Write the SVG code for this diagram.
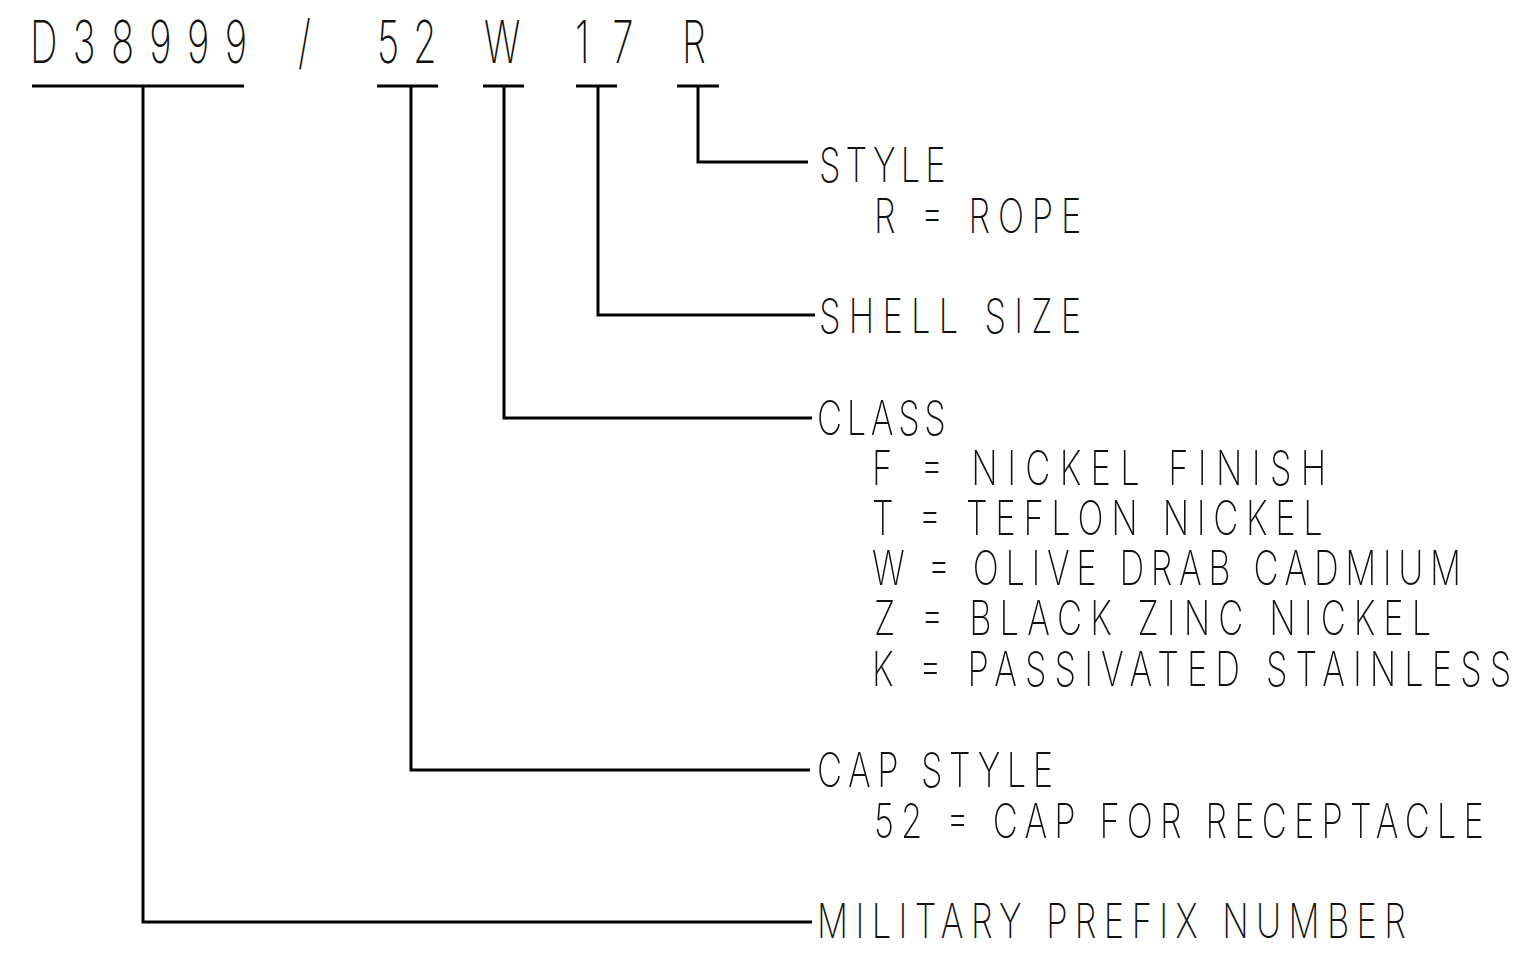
<svg xmlns="http://www.w3.org/2000/svg" width="1516" height="954" viewBox="0 0 1516 954">
<style>
.pn{font-family:Inter,Roboto,Lato,"DejaVu Sans",sans-serif;font-weight:200;font-size:59px;fill:#111;}
.lb{font-family:Inter,Roboto,Lato,"DejaVu Sans",sans-serif;font-weight:200;font-size:48px;fill:#111;}
.ln{stroke:#000;stroke-width:3;fill:none;stroke-linecap:butt;stroke-linejoin:miter;}
.txt{opacity:0.995;}
</style>
<rect width="1516" height="954" fill="#fff"/>
<g id="part-number">
<g id="seg-prefix"><text class="pn txt" transform="translate(30,63) scale(0.65,1)" textLength="334" lengthAdjust="spacing">D38999</text><line class="ln" x1="32" y1="86" x2="244" y2="86"/></g>
<g id="seg-slash"><text class="pn txt" transform="translate(298,63) scale(0.65,1)">/</text></g>
<g id="seg-cap"><text class="pn txt" transform="translate(377,63) scale(0.65,1)" textLength="92" lengthAdjust="spacing">52</text><line class="ln" x1="377" y1="86" x2="438" y2="86"/></g>
<g id="seg-class"><text class="pn txt" transform="translate(484,63) scale(0.65,1)">W</text><line class="ln" x1="483" y1="86" x2="524" y2="86"/></g>
<g id="seg-shell"><text class="pn txt" transform="translate(575,63) scale(0.65,1)" textLength="90" lengthAdjust="spacing">17</text><line class="ln" x1="576" y1="86" x2="617" y2="86"/></g>
<g id="seg-style"><text class="pn txt" transform="translate(682,63) scale(0.65,1)">R</text><line class="ln" x1="677" y1="86" x2="719" y2="86"/></g>
</g>
<g id="connectors">
<polyline class="ln" points="698,86 698,162 808,162"/>
<polyline class="ln" points="598,86 598,315 815,315"/>
<polyline class="ln" points="504,86 504,418 812,418"/>
<polyline class="ln" points="411,86 411,770 810,770"/>
<polyline class="ln" points="143,86 143,922 812,922"/>
</g>
<g id="label-style" class="txt">
<text class="lb" transform="translate(819,182) scale(0.72,1)" textLength="176" lengthAdjust="spacing">STYLE</text>
<text class="lb" transform="translate(874,233) scale(0.72,1)" textLength="288" lengthAdjust="spacing">R = ROPE</text>
</g>
<g id="label-shell" class="txt">
<text class="lb" transform="translate(819,333) scale(0.72,1)" textLength="364" lengthAdjust="spacing">SHELL SIZE</text>
</g>
<g id="label-class" class="txt">
<text class="lb" transform="translate(817,435) scale(0.72,1)" textLength="179" lengthAdjust="spacing">CLASS</text>
<text class="lb" transform="translate(872,485) scale(0.72,1)" textLength="631" lengthAdjust="spacing">F = NICKEL FINISH</text>
<text class="lb" transform="translate(872,535) scale(0.72,1)" textLength="626" lengthAdjust="spacing">T = TEFLON NICKEL</text>
<text class="lb" transform="translate(872,585) scale(0.72,1)" textLength="818" lengthAdjust="spacing">W = OLIVE DRAB CADMIUM</text>
<text class="lb" transform="translate(874,635) scale(0.72,1)" textLength="774" lengthAdjust="spacing">Z = BLACK ZINC NICKEL</text>
<text class="lb" transform="translate(872,686) scale(0.72,1)" textLength="888" lengthAdjust="spacing">K = PASSIVATED STAINLESS</text>
</g>
<g id="label-cap-style" class="txt">
<text class="lb" transform="translate(817,787) scale(0.72,1)" textLength="328" lengthAdjust="spacing">CAP STYLE</text>
<text class="lb" transform="translate(874,838) scale(0.72,1)" textLength="847" lengthAdjust="spacing">52 = CAP FOR RECEPTACLE</text>
</g>
<g id="label-prefix" class="txt">
<text class="lb" transform="translate(817,938) scale(0.72,1)" textLength="818" lengthAdjust="spacing">MILITARY PREFIX NUMBER</text>
</g>
</svg>
